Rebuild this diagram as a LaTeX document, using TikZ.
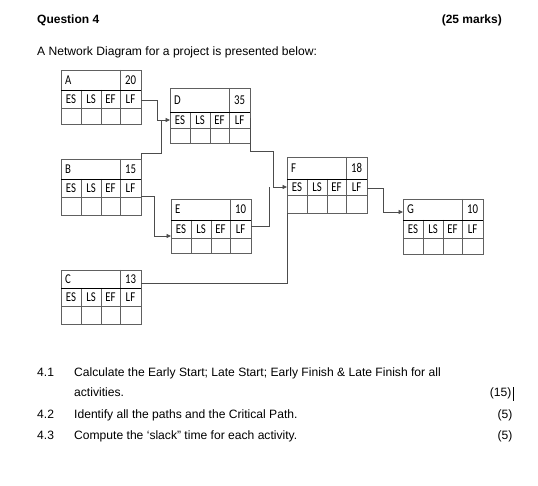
\documentclass[tikz,border=0pt]{standalone}
\usepackage{fontspec}
\setmainfont{Liberation Sans}
\newfontfamily\boxfont{Carlito}[FakeStretch=0.8]
\usetikzlibrary{calc,arrows.meta}
\tikzset{
  txt/.style={inner sep=0pt, font=\fontsize{12.1}{14}\selectfont},
  btxt/.style={txt, font=\fontsize{12}{14}\selectfont\bfseries},
  boxframe/.style={draw=gray!75!black, line width=0.7pt, minimum width=80pt, inner sep=0pt, outer sep=0pt},
  inner/.style={draw=gray!75!black, line width=0.7pt},
  headline/.style={draw=black, line width=0.9pt},
  cell/.style={inner sep=0pt, font=\fontsize{13.5}{15}\boxfont},
  conn/.style={draw=gray!60!black, line width=0.8pt},
  arr/.style={conn, -{Triangle[length=4.5pt,width=4pt]}}
}
\newcommand\actbox[8]{%
  \pgfmathsetmacro\bh{#6+#7+#8}%
  \node[boxframe, minimum height=\bh pt, anchor=north west] (#1) at (#2,#3) {};
  \draw[inner] ($(#1.north west)+(0,#6+#7)$) -- ($(#1.north east)+(0,#6+#7)$);
  \draw[inner] ($(#1.north west)+(20,#6)$) -- ($(#1.south west)+(20,0)$);
  \draw[inner] ($(#1.north west)+(40,#6)$) -- ($(#1.south west)+(40,0)$);
  \draw[inner] ($(#1.north west)+(59,0)$) -- ($(#1.south west)+(59,0)$);
  \draw[headline] ($(#1.north west)+(0,#6)$) -- ($(#1.north east)+(0,#6)$);
  \node[cell, anchor=west] (#1-name) at ($(#1.north west)+(4,#6/2)$) {#4};
  \node[cell] (#1-dur) at ($(#1.north west)+(69.5,#6/2)$) {#5};
  \node[cell] (#1-es) at ($(#1.north west)+(10,#6+#7/2)$) {ES};
  \node[cell] (#1-ls) at ($(#1.north west)+(30,#6+#7/2)$) {LS};
  \node[cell] (#1-ef) at ($(#1.north west)+(49.5,#6+#7/2)$) {EF};
  \node[cell] (#1-lf) at ($(#1.north west)+(69.5,#6+#7/2)$) {LF};
}
\begin{document}
\begin{tikzpicture}[x=1pt,y=-1pt]
\useasboundingbox[fill=white] (0,0) rectangle (538,486);

% header texts
\node[btxt, anchor=base west] (q) at (37,24) {Question 4};
\node[btxt, anchor=base east] (marks) at (502,24) {(25 marks)};
\node[txt, anchor=base west] (intro) at (37,55.7) {A Network Diagram for a project is presented below:};

% activity boxes
\actbox{A}{61}{70}{A}{20}{20}{18}{16}
\actbox{B}{61}{159}{B}{15}{20}{18}{18}
\actbox{C}{61}{270}{C}{13}{18}{18}{18}
\actbox{D}{170}{88}{D}{35}{24}{16}{15}
\actbox{E}{171}{199}{E}{10}{21}{18}{15}
\actbox{F}{287}{157}{F}{18}{22}{16}{18}
\actbox{G}{403}{199}{G}{10}{21}{18}{16}

% connectors
\draw[arr] ($(A.north east)+(0,30)$) -- ++(16,0) |- ($(D.north west)+(0,32)$);
\draw[conn] (B.north east) -- ++(0,-6) -| ($(D.north west)+(-9,32)$);
\draw[arr] ($(B.north east)+(0,37)$) -- ++(13,0) |- ($(E.north west)+(0,37)$);
\draw[arr] ($(D.north east)+(0,30)$) -- ($(D.north east)+(0,63)$) -- ++(23,0) |- ($(F.north west)+(0,30)$);
\draw[conn] ($(E.north east)+(0,27)$) -| ($(F.north west)+(-18,30)$);
\draw[conn] ($(C.north east)+(0,13)$) -| (F.south west);
\draw[arr] ($(F.north east)+(0,31)$) -- ++(16,0) |- ($(G.north west)+(0,13)$);

% questions
\node[txt, anchor=base west] (n1) at (37,376) {4.1};
\node[txt, anchor=base west] (t1) at (74,376) {Calculate the Early Start; Late Start; Early Finish \& Late Finish for all};
\node[txt, anchor=base west] (t1b) at (74,396.7) {activities.};
\node[txt, anchor=base east] (m1) at (511.5,396.7) {(15)};
\coordinate (cur1) at ($(m1.south east)+(1.8,1.5)$);
\coordinate (cur2) at ($(m1.north east)+(1.8,-0.5)$);
\draw[line width=0.8pt] (cur1) -- (cur2);
\node[txt, anchor=base west] (n2) at (37,418.3) {4.2};
\node[txt, anchor=base west] (t2) at (74,418.3) {Identify all the paths and the Critical Path.};
\node[txt, anchor=base east] (m2) at (512.5,418.3) {(5)};
\node[txt, anchor=base west] (n3) at (37,439) {4.3};
\node[txt, anchor=base west] (t3) at (74,439) {Compute the ‘slack” time for each activity.};
\node[txt, anchor=base east] (m3) at (512.5,439) {(5)};
\end{tikzpicture}
\end{document}
